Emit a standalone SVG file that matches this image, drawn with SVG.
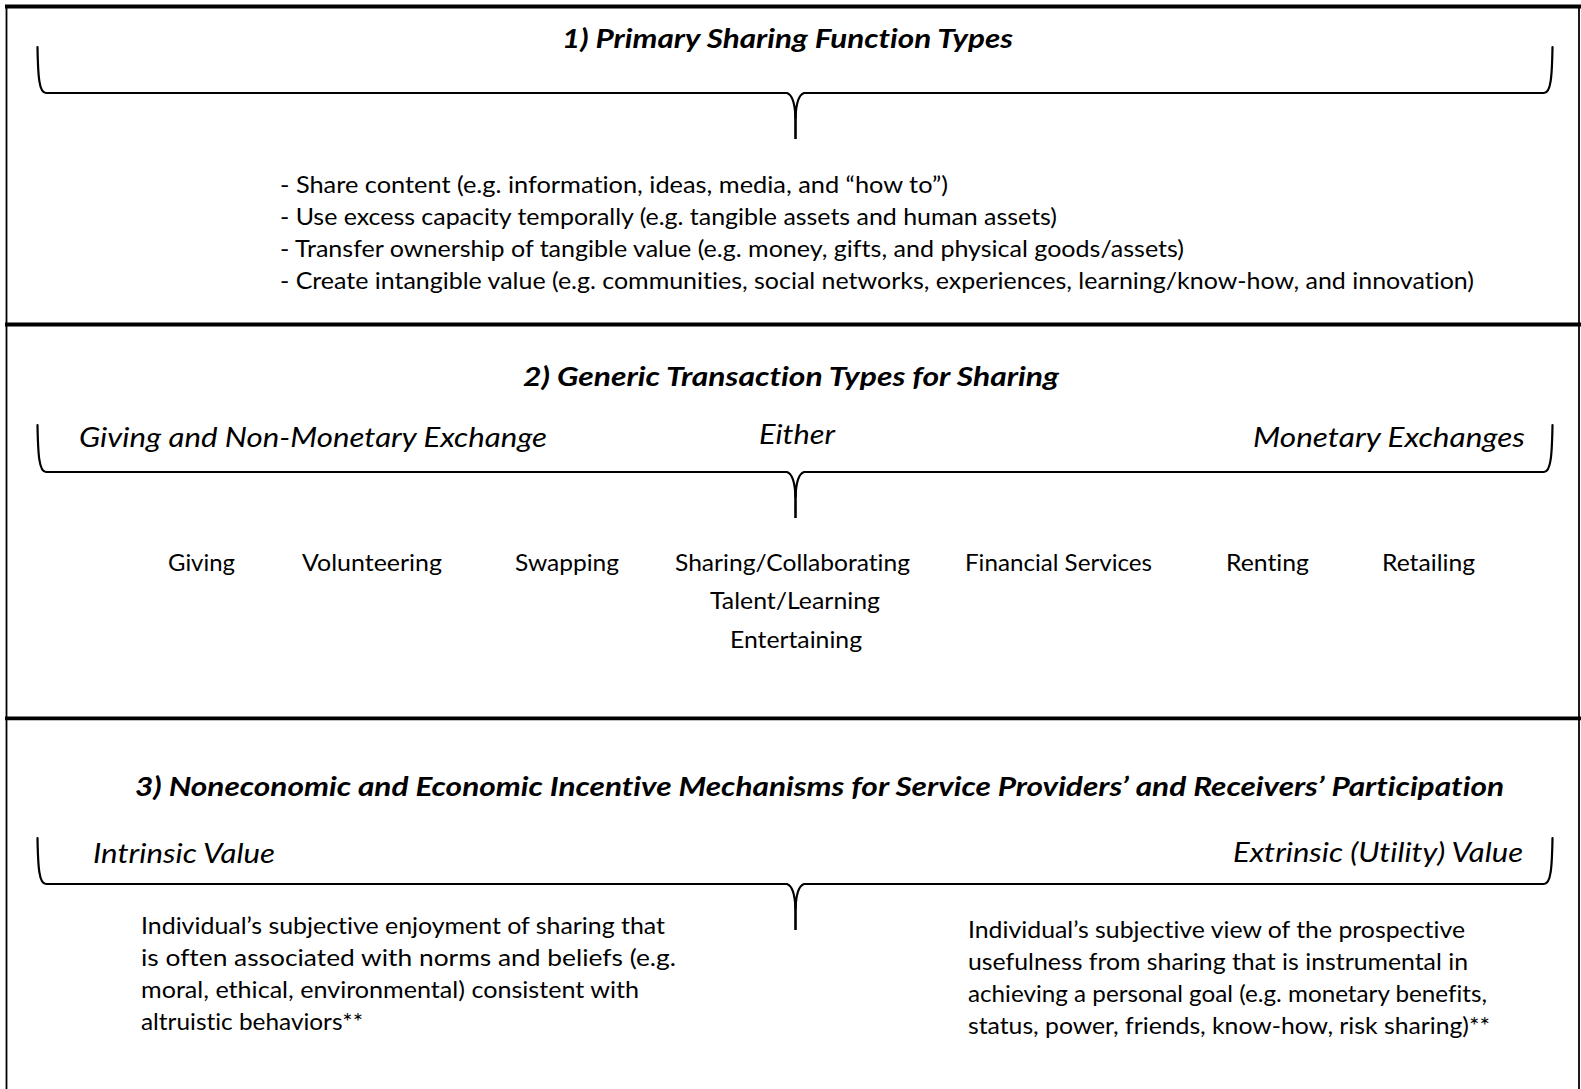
<svg xmlns="http://www.w3.org/2000/svg" width="1581" height="1089" viewBox="0 0 1581 1089">
<style>
text{font-family:Lato,"Open Sans","Liberation Sans",sans-serif;fill:#000;font-variant-ligatures:none}
.t{font-size:27.5px;font-weight:bold;font-style:italic;text-anchor:middle}
.i{font-size:26.5px;font-style:italic}
.b{font-size:23px}
.c{font-size:23px;text-anchor:middle}
.frame{fill:none;stroke:#000}
.brace{fill:none;stroke:#000;stroke-width:2.2;stroke-linecap:round;stroke-linejoin:round}
.tip{fill:none;stroke:#000;stroke-width:2.6}
</style>
<rect width="1581" height="1089" fill="#fff"/>
<g id="frame">
<line class="frame" x1="6.5" y1="5" x2="6.5" y2="1089" stroke-width="1.8"/>
<line class="frame" x1="1579" y1="5" x2="1579" y2="1089" stroke-width="1.8"/>
<line class="frame" x1="5" y1="6.5" x2="1581" y2="6.5" stroke-width="3.8"/>
<line class="frame" x1="5" y1="324.5" x2="1581" y2="324.5" stroke-width="3.8"/>
<line class="frame" x1="5" y1="718.3" x2="1581" y2="718.3" stroke-width="3.8"/>
</g>
<g id="connectors">
<path class="brace" d="M37.5,47 C38,76 39,93 46,93 L787,93 C793,95 795,104 795.5,118 M1552.5,47 C1552,76 1551,93 1544,93 L804,93 C798,95 796,104 795.5,118"/>
<line class="tip" x1="795.5" y1="112" x2="795.5" y2="139"/>
<path class="brace" d="M37.5,425 C38,454 39,472 46,472 L787,472 C793,474 795,483 795.5,497 M1552.5,425 C1552,454 1551,472 1544,472 L804,472 C798,474 796,483 795.5,497"/>
<line class="tip" x1="795.5" y1="491" x2="795.5" y2="518"/>
<path class="brace" d="M37.5,838 C38,867 39,884 46,884 L787,884 C793,886 795,895 795.5,909 M1552.5,838 C1552,867 1551,884 1544,884 L804,884 C798,886 796,895 795.5,909"/>
<line class="tip" x1="795.5" y1="903" x2="795.5" y2="930"/>
</g>
<g id="section1">
<text class="t" x="787.5" y="48" textLength="451" lengthAdjust="spacingAndGlyphs">1) Primary Sharing Function Types</text>
<g id="functions">
<text class="b" x="280" y="193" textLength="668" lengthAdjust="spacingAndGlyphs">- Share content (e.g. information, ideas, media, and “how to”)</text>
<text class="b" x="280" y="225" textLength="777" lengthAdjust="spacingAndGlyphs">- Use excess capacity temporally (e.g. tangible assets and human assets)</text>
<text class="b" x="280" y="257" textLength="904" lengthAdjust="spacingAndGlyphs">- Transfer ownership of tangible value (e.g. money, gifts, and physical goods/assets)</text>
<text class="b" x="280" y="289" textLength="1194" lengthAdjust="spacingAndGlyphs">- Create intangible value (e.g. communities, social networks, experiences, learning/know-how, and innovation)</text>
</g>
</g>
<g id="section2">
<text class="t" x="791" y="386" textLength="536" lengthAdjust="spacingAndGlyphs">2) Generic Transaction Types for Sharing</text>
<text id="nonmonetary" class="i" x="79" y="447" textLength="468" lengthAdjust="spacingAndGlyphs">Giving and Non-Monetary Exchange</text>
<text id="either" class="i" x="759" y="444" textLength="76" lengthAdjust="spacingAndGlyphs">Either</text>
<text id="monetary" class="i" x="1253" y="447" textLength="272" lengthAdjust="spacingAndGlyphs">Monetary Exchanges</text>
<g id="transactions">
<text class="c" x="201.5" y="571" textLength="67" lengthAdjust="spacingAndGlyphs">Giving</text>
<text class="c" x="372" y="571" textLength="140" lengthAdjust="spacingAndGlyphs">Volunteering</text>
<text class="c" x="567" y="571" textLength="104" lengthAdjust="spacingAndGlyphs">Swapping</text>
<text class="c" x="792.5" y="571" textLength="235" lengthAdjust="spacingAndGlyphs">Sharing/Collaborating</text>
<text class="c" x="795" y="609" textLength="170" lengthAdjust="spacingAndGlyphs">Talent/Learning</text>
<text class="c" x="796" y="648" textLength="132" lengthAdjust="spacingAndGlyphs">Entertaining</text>
<text class="c" x="1058.5" y="571" textLength="187" lengthAdjust="spacingAndGlyphs">Financial Services</text>
<text class="c" x="1267.5" y="571" textLength="83" lengthAdjust="spacingAndGlyphs">Renting</text>
<text class="c" x="1428.5" y="571" textLength="93" lengthAdjust="spacingAndGlyphs">Retailing</text>
</g>
</g>
<g id="section3">
<text x="135" y="796" style="font-size:27.5px;font-weight:bold;font-style:italic" textLength="1369" lengthAdjust="spacingAndGlyphs">3) Noneconomic and Economic Incentive Mechanisms for Service Providers’ and Receivers’ Participation</text>
<text id="intrinsic" class="i" x="93" y="863" textLength="182" lengthAdjust="spacingAndGlyphs">Intrinsic Value</text>
<text id="extrinsic" class="i" x="1233" y="862" textLength="290" lengthAdjust="spacingAndGlyphs">Extrinsic (Utility) Value</text>
<g id="intrinsic-desc">
<text class="b" x="141" y="934" textLength="524" lengthAdjust="spacingAndGlyphs">Individual’s subjective enjoyment of sharing that</text>
<text class="b" x="141" y="966" textLength="535" lengthAdjust="spacingAndGlyphs">is often associated with norms and beliefs (e.g.</text>
<text class="b" x="141" y="998" textLength="498" lengthAdjust="spacingAndGlyphs">moral, ethical, environmental) consistent with</text>
<text class="b" x="141" y="1030" textLength="222" lengthAdjust="spacingAndGlyphs">altruistic behaviors**</text>
</g>
<g id="extrinsic-desc">
<text class="b" x="968" y="938" textLength="497" lengthAdjust="spacingAndGlyphs">Individual’s subjective view of the prospective</text>
<text class="b" x="968" y="970" textLength="500" lengthAdjust="spacingAndGlyphs">usefulness from sharing that is instrumental in</text>
<text class="b" x="968" y="1002" textLength="519" lengthAdjust="spacingAndGlyphs">achieving a personal goal (e.g. monetary benefits,</text>
<text class="b" x="968" y="1034" textLength="522" lengthAdjust="spacingAndGlyphs">status, power, friends, know-how, risk sharing)**</text>
</g>
</g>
</svg>
